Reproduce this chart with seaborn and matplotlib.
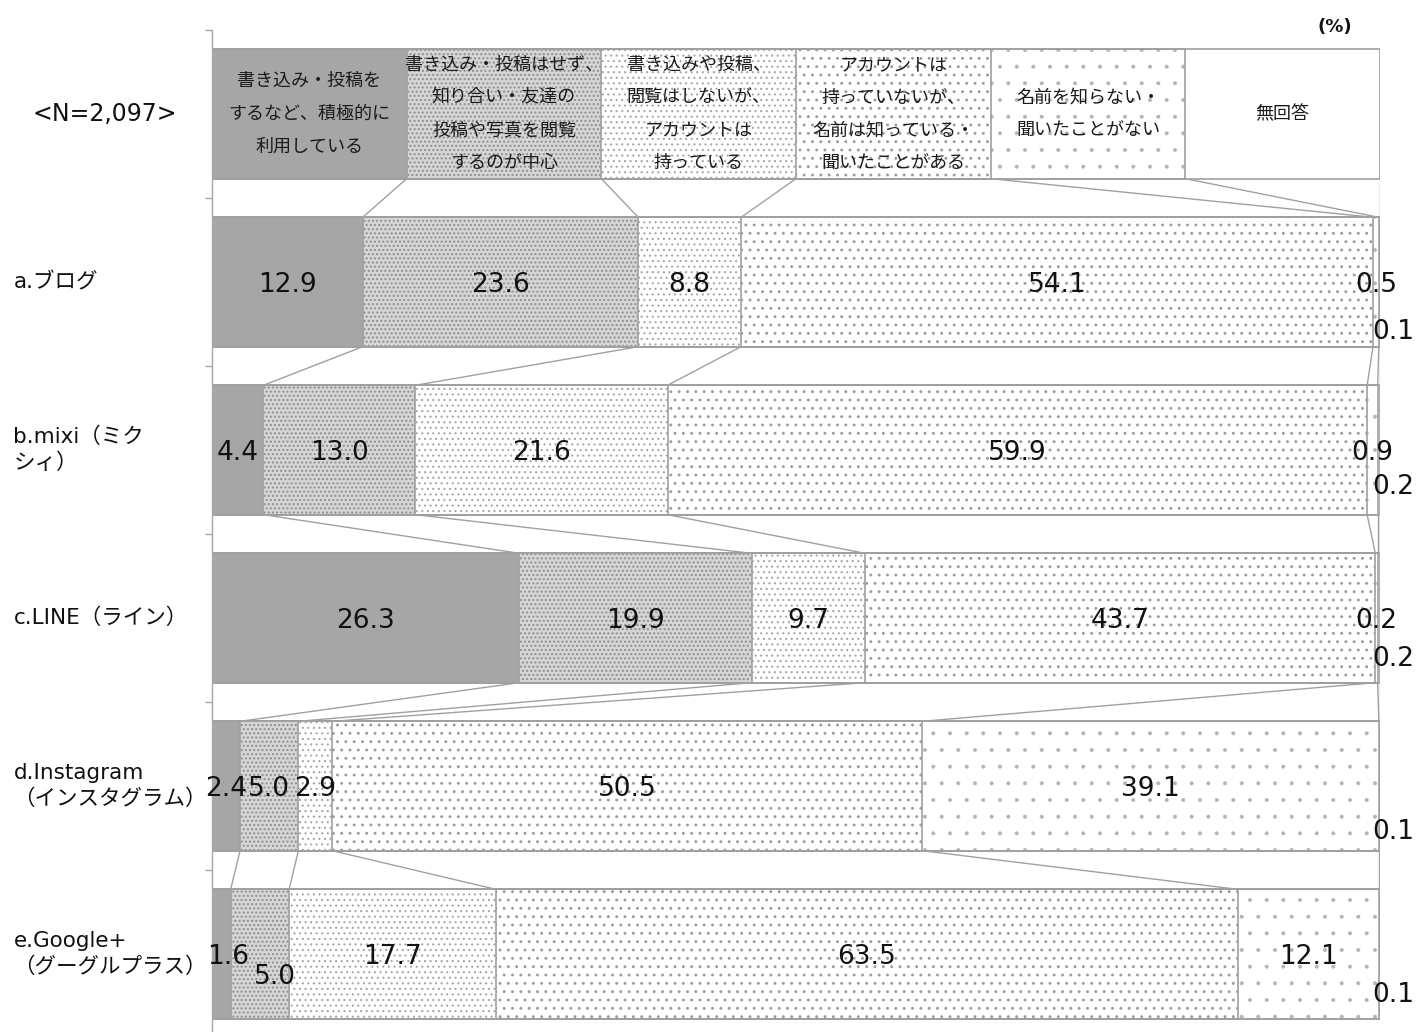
import matplotlib
matplotlib.use("Agg")
import matplotlib.pyplot as plt
import seaborn as sns
import pandas as pd
import numpy as np
from matplotlib.transforms import blended_transform_factory

# ---------------- data ----------------
categories = ["a.ブログ", "b.mixi（ミク\nシィ）", "c.LINE（ライン）",
              "d.Instagram\n（インスタグラム）", "e.Google+\n（グーグルプラス）"]
series_names = [
    "書き込み・投稿を\nするなど、積極的に\n利用している",
    "書き込み・投稿はせず、\n知り合い・友達の\n投稿や写真を閲覧\nするのが中心",
    "書き込みや投稿、\n閲覧はしないが、\nアカウントは\n持っている",
    "アカウントは\n持っていないが、\n名前は知っている・\n聞いたことがある",
    "名前を知らない・\n聞いたことがない",
    "無回答",
]
active = [12.9, 4.4, 26.3, 2.4, 1.6]
browse = [23.6, 13.0, 19.9, 5.0, 5.0]
account = [8.8, 21.6, 9.7, 2.9, 17.7]
known = [54.1, 59.9, 43.7, 50.5, 63.5]
unknown = [0.5, 0.9, 0.2, 39.1, 12.1]
no_answer = [0.1, 0.2, 0.2, 0.1, 0.1]
header_label = "<N=2,097>"
unit_label = "(%)"

series = [active, browse, account, known, unknown, no_answer]

# ---------------- style ----------------
sns.set_theme(style="white")
plt.rcParams["font.family"] = ["DejaVu Sans", "Noto Sans CJK JP"]

EDGE = "#a0a0a0"
face_colors = ["#a6a6a6", "#d6d6d6", "#ffffff", "#ffffff", "#ffffff", "#ffffff"]
hatch_colors = ["#a6a6a6", "#8f8f8f", "#a8a8a8", "#9c9c9c", "#b4b4b4", "#ffffff"]
hatches = [None, "....", "...", "..", ".", None]
hatch_lws = [1.0, 1.0, 0.8, 0.9, 0.4, 1.0]
BAR_W = 0.77

# label offsets in pixels (dx, dy) for crowded labels: (row, segment)
label_offsets = {
    (0, 5): (14, -47), (1, 5): (14, -34), (2, 5): (14, -38),
    (3, 5): (14, -43), (4, 5): (14, -38),
    (4, 1): (15, -20), (4, 0): (7, 0),
}
LABEL_DY = -3

# ---------------- table ----------------
n_ser = len(series)
row_ids = ["header"] + [f"r{i}" for i in range(len(categories))]
values = np.array(series).T  # rows x series
header_vals = np.full(n_ser, 100.0 / n_ser)
all_vals = np.vstack([header_vals, values])
cum = np.cumsum(all_vals, axis=1)
df = pd.DataFrame({"row": row_ids})
for k in range(n_ser):
    df[f"cum{k}"] = cum[:, k]

# ---------------- figure ----------------
fig = plt.figure(figsize=(14.16, 10.32), dpi=100)
ax = fig.add_axes([212 / 1416, 1 - 1038 / 1032, 1168 / 1416, 1008 / 1032])

# filled / hatched layers (longest first, overlapping)
for k in reversed(range(n_ser)):
    n_before = len(ax.patches)
    with plt.rc_context({"hatch.linewidth": hatch_lws[k]}):
        sns.barplot(data=df, x=f"cum{k}", y="row", order=row_ids, orient="h",
                    color=face_colors[k], saturation=1, width=BAR_W,
                    edgecolor=hatch_colors[k], linewidth=0, hatch=hatches[k],
                    errorbar=None, ax=ax)
    for p in ax.patches[n_before:]:
        p.set_edgecolor(hatch_colors[k])
        p.set_linewidth(0)
        if hasattr(p, "set_hatch_linewidth"):
            p.set_hatch_linewidth(hatch_lws[k])

# outlines of every segment
for k in reversed(range(n_ser)):
    sns.barplot(data=df, x=f"cum{k}", y="row", order=row_ids, orient="h",
                fill=False, color=EDGE, saturation=1, width=BAR_W,
                edgecolor=EDGE, linewidth=1.2, errorbar=None, ax=ax)

# connector lines
for i in range(len(row_ids) - 1):
    y0 = i + BAR_W / 2
    y1 = i + 1 - BAR_W / 2
    for k in range(n_ser):
        ax.plot([cum[i, k], cum[i + 1, k]], [y0, y1], color=EDGE, lw=1.0,
                solid_capstyle="butt", zorder=0.5)

# header texts
for k, name in enumerate(series_names):
    xc = (k + 0.5) * 100.0 / n_ser
    ax.text(xc, 0, name, ha="center", va="center", fontsize=13,
            linespacing=2.05, family=["Noto Sans CJK JP", "DejaVu Sans"],
            color="#1a1a1a")

# value labels
for i in range(len(categories)):
    prev = 0.0
    for k in range(n_ser):
        v = values[i, k]
        xc = prev + v / 2
        prev += v
        dx, dy = label_offsets.get((i, k), (0, 0))
        ax.annotate(f"{v:.1f}", (xc, i + 1), xytext=(dx, dy + LABEL_DY),
                    textcoords="offset pixels", ha="center", va="center",
                    fontsize=19, color="#111111")

# category labels
trans = blended_transform_factory(ax.transAxes, ax.transData)
ax.text(-0.0916, 0, header_label, transform=trans, ha="center", va="center",
        fontsize=17, color="#111111")
for i, c in enumerate(categories):
    ax.text(-0.170, i + 1, c, transform=trans, ha="left", va="center",
            fontsize=15.5, linespacing=1.35, color="#111111")

fig.text(1335 / 1416, 1 - 27 / 1032, unit_label, ha="center", va="center",
         fontsize=13, fontweight="bold", color="#111111")

ax.set_xlim(0, 100)
ax.set_ylim(len(row_ids) - 0.5, -0.5)
ax.set_xlabel("")
ax.set_ylabel("")
ax.set_xticks([])
ax.set_yticks(np.arange(-0.5, len(row_ids), 1.0))
ax.set_yticklabels([])
ax.tick_params(axis="y", left=True, length=5, width=1, color="#a6a6a6",
               direction="out")
for s in ["top", "right", "bottom"]:
    ax.spines[s].set_visible(False)
ax.spines["left"].set_color("#a6a6a6")
ax.spines["left"].set_linewidth(1)
ax.set_facecolor("white")

fig.savefig("out.png", dpi=100, facecolor="white")
